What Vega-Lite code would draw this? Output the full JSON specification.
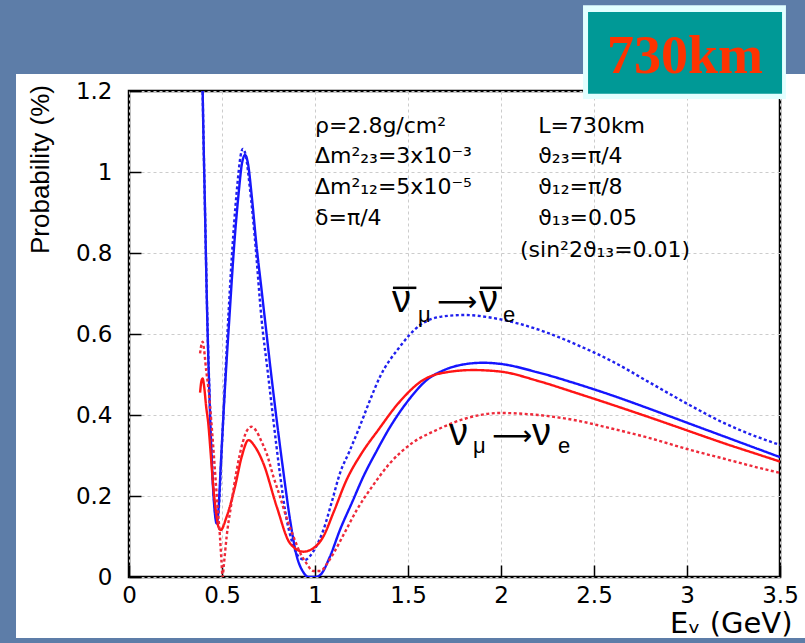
{
  "$schema": "https://vega.github.io/schema/vega-lite/v6.json",
  "width": 651,
  "height": 486,
  "autosize": {"type": "none"},
  "padding": {"left": 129, "top": 91, "right": 25, "bottom": 66},
  "background": "white",
  "config": {
    "view": {"stroke": "black", "strokeWidth": 2.5, "fill": "white"}
  },
  "datasets": {
    "curves": [
      {"s":"bs","E":0.392,"P":1.32},{"s":"bs","E":0.396,"P":1.2},{"s":"bs","E":0.408,"P":0.92},{"s":"bs","E":0.421,"P":0.635},{"s":"bs","E":0.436,"P":0.40},{"s":"bs","E":0.452,"P":0.22},{"s":"bs","E":0.463,"P":0.152},{"s":"bs","E":0.471,"P":0.132},{"s":"bs","E":0.48,"P":0.16},{"s":"bs","E":0.495,"P":0.29},{"s":"bs","E":0.515,"P":0.46},{"s":"bs","E":0.539,"P":0.635},{"s":"bs","E":0.565,"P":0.816},{"s":"bs","E":0.59,"P":0.95},{"s":"bs","E":0.607,"P":1.02},{"s":"bs","E":0.624,"P":1.042},{"s":"bs","E":0.64,"P":1.02},{"s":"bs","E":0.66,"P":0.94},{"s":"bs","E":0.686,"P":0.816},{"s":"bs","E":0.71,"P":0.72},{"s":"bs","E":0.731,"P":0.635},{"s":"bs","E":0.762,"P":0.51},{"s":"bs","E":0.794,"P":0.388},{"s":"bs","E":0.83,"P":0.26},{"s":"bs","E":0.866,"P":0.141},{"s":"bs","E":0.9,"P":0.055},{"s":"bs","E":0.937,"P":0.012},{"s":"bs","E":0.965,"P":0.0},{"s":"bs","E":1.0,"P":0.0},{"s":"bs","E":1.03,"P":0.006},{"s":"bs","E":1.08,"P":0.05},{"s":"bs","E":1.134,"P":0.116},{"s":"bs","E":1.2,"P":0.185},{"s":"bs","E":1.26,"P":0.248},{"s":"bs","E":1.33,"P":0.31},{"s":"bs","E":1.394,"P":0.363},{"s":"bs","E":1.5,"P":0.435},{"s":"bs","E":1.6,"P":0.486},{"s":"bs","E":1.7,"P":0.512},{"s":"bs","E":1.8,"P":0.525},{"s":"bs","E":1.904,"P":0.529},{"s":"bs","E":2.0,"P":0.526},{"s":"bs","E":2.2,"P":0.505},{"s":"bs","E":2.4,"P":0.478},{"s":"bs","E":2.6,"P":0.448},{"s":"bs","E":2.8,"P":0.415},{"s":"bs","E":3.0,"P":0.381},{"s":"bs","E":3.2,"P":0.347},{"s":"bs","E":3.4,"P":0.313},{"s":"bs","E":3.5,"P":0.296},

      {"s":"bd","E":0.392,"P":1.32},{"s":"bd","E":0.396,"P":1.2},{"s":"bd","E":0.408,"P":0.92},{"s":"bd","E":0.421,"P":0.64},{"s":"bd","E":0.436,"P":0.41},{"s":"bd","E":0.452,"P":0.23},{"s":"bd","E":0.463,"P":0.16},{"s":"bd","E":0.473,"P":0.135},{"s":"bd","E":0.483,"P":0.17},{"s":"bd","E":0.497,"P":0.3},{"s":"bd","E":0.515,"P":0.47},{"s":"bd","E":0.535,"P":0.65},{"s":"bd","E":0.56,"P":0.84},{"s":"bd","E":0.585,"P":0.98},{"s":"bd","E":0.6,"P":1.04},{"s":"bd","E":0.612,"P":1.057},{"s":"bd","E":0.628,"P":1.04},{"s":"bd","E":0.65,"P":0.96},{"s":"bd","E":0.676,"P":0.84},{"s":"bd","E":0.713,"P":0.635},{"s":"bd","E":0.745,"P":0.51},{"s":"bd","E":0.776,"P":0.388},{"s":"bd","E":0.81,"P":0.26},{"s":"bd","E":0.848,"P":0.141},{"s":"bd","E":0.875,"P":0.09},{"s":"bd","E":0.901,"P":0.058},{"s":"bd","E":0.925,"P":0.045},{"s":"bd","E":0.946,"P":0.042},{"s":"bd","E":0.97,"P":0.05},{"s":"bd","E":1.0,"P":0.07},{"s":"bd","E":1.045,"P":0.116},{"s":"bd","E":1.09,"P":0.185},{"s":"bd","E":1.134,"P":0.256},{"s":"bd","E":1.185,"P":0.31},{"s":"bd","E":1.233,"P":0.363},{"s":"bd","E":1.29,"P":0.43},{"s":"bd","E":1.35,"P":0.495},{"s":"bd","E":1.45,"P":0.565},{"s":"bd","E":1.565,"P":0.622},{"s":"bd","E":1.68,"P":0.643},{"s":"bd","E":1.806,"P":0.647},{"s":"bd","E":1.95,"P":0.64},{"s":"bd","E":2.1,"P":0.625},{"s":"bd","E":2.25,"P":0.603},{"s":"bd","E":2.4,"P":0.575},{"s":"bd","E":2.6,"P":0.532},{"s":"bd","E":2.8,"P":0.48},{"s":"bd","E":3.0,"P":0.428},{"s":"bd","E":3.2,"P":0.38},{"s":"bd","E":3.4,"P":0.342},{"s":"bd","E":3.5,"P":0.326},

      {"s":"rs","E":0.382,"P":0.455},{"s":"rs","E":0.39,"P":0.485},{"s":"rs","E":0.396,"P":0.49},{"s":"rs","E":0.404,"P":0.47},{"s":"rs","E":0.415,"P":0.42},{"s":"rs","E":0.426,"P":0.38},{"s":"rs","E":0.44,"P":0.3},{"s":"rs","E":0.453,"P":0.223},{"s":"rs","E":0.468,"P":0.16},{"s":"rs","E":0.48,"P":0.125},{"s":"rs","E":0.493,"P":0.116},{"s":"rs","E":0.525,"P":0.149},{"s":"rs","E":0.57,"P":0.223},{"s":"rs","E":0.606,"P":0.297},{"s":"rs","E":0.642,"P":0.338},{"s":"rs","E":0.677,"P":0.322},{"s":"rs","E":0.722,"P":0.281},{"s":"rs","E":0.794,"P":0.174},{"s":"rs","E":0.866,"P":0.083},{"s":"rs","E":0.937,"P":0.0625},{"s":"rs","E":0.98,"P":0.068},{"s":"rs","E":1.045,"P":0.1},{"s":"rs","E":1.1,"P":0.16},{"s":"rs","E":1.17,"P":0.24},{"s":"rs","E":1.25,"P":0.305},{"s":"rs","E":1.34,"P":0.363},{"s":"rs","E":1.45,"P":0.43},{"s":"rs","E":1.58,"P":0.486},{"s":"rs","E":1.7,"P":0.505},{"s":"rs","E":1.85,"P":0.511},{"s":"rs","E":2.0,"P":0.507},{"s":"rs","E":2.2,"P":0.484},{"s":"rs","E":2.4,"P":0.455},{"s":"rs","E":2.6,"P":0.425},{"s":"rs","E":2.8,"P":0.394},{"s":"rs","E":3.0,"P":0.362},{"s":"rs","E":3.2,"P":0.33},{"s":"rs","E":3.4,"P":0.3},{"s":"rs","E":3.5,"P":0.285},

      {"s":"rd","E":0.382,"P":0.552},{"s":"rd","E":0.39,"P":0.575},{"s":"rd","E":0.396,"P":0.581},{"s":"rd","E":0.404,"P":0.56},{"s":"rd","E":0.415,"P":0.51},{"s":"rd","E":0.426,"P":0.47},{"s":"rd","E":0.445,"P":0.37},{"s":"rd","E":0.462,"P":0.264},{"s":"rd","E":0.476,"P":0.175},{"s":"rd","E":0.489,"P":0.1},{"s":"rd","E":0.497,"P":0.04},{"s":"rd","E":0.503,"P":0.0},{"s":"rd","E":0.51,"P":0.03},{"s":"rd","E":0.525,"P":0.1},{"s":"rd","E":0.55,"P":0.18},{"s":"rd","E":0.579,"P":0.264},{"s":"rd","E":0.61,"P":0.33},{"s":"rd","E":0.635,"P":0.362},{"s":"rd","E":0.659,"P":0.371},{"s":"rd","E":0.685,"P":0.36},{"s":"rd","E":0.712,"P":0.335},{"s":"rd","E":0.74,"P":0.305},{"s":"rd","E":0.775,"P":0.25},{"s":"rd","E":0.812,"P":0.198},{"s":"rd","E":0.848,"P":0.145},{"s":"rd","E":0.884,"P":0.1},{"s":"rd","E":0.92,"P":0.06},{"s":"rd","E":0.955,"P":0.033},{"s":"rd","E":0.99,"P":0.015},{"s":"rd","E":1.03,"P":0.015},{"s":"rd","E":1.065,"P":0.033},{"s":"rd","E":1.099,"P":0.058},{"s":"rd","E":1.16,"P":0.11},{"s":"rd","E":1.224,"P":0.165},{"s":"rd","E":1.31,"P":0.225},{"s":"rd","E":1.403,"P":0.281},{"s":"rd","E":1.52,"P":0.33},{"s":"rd","E":1.654,"P":0.363},{"s":"rd","E":1.8,"P":0.39},{"s":"rd","E":1.995,"P":0.405},{"s":"rd","E":2.2,"P":0.4},{"s":"rd","E":2.4,"P":0.387},{"s":"rd","E":2.6,"P":0.366},{"s":"rd","E":2.8,"P":0.343},{"s":"rd","E":3.0,"P":0.316},{"s":"rd","E":3.2,"P":0.292},{"s":"rd","E":3.4,"P":0.268},{"s":"rd","E":3.5,"P":0.257}
    ],
    "strips": [
      {"E":-1,"E2":-0.6075,"P":-0.3,"P2":1.7},
      {"E":-1,"E2":4,"P":1.242,"P2":1.7},
      {"E":-1,"E2":4,"P":-0.3,"P2":-0.1506}
    ],
    "boxOuter": [{"E":2.441,"E2":3.532,"P":1.18,"P2":1.412}],
    "boxInner": [{"E":2.468,"E2":3.511,"P":1.193,"P2":1.395}],
    "boxText": [{"E":2.989,"P":1.244,"t":"730km"}],
    "params": [
      {"E":1.0,"P":1.096,"t":"ρ=2.8g/cm²"},
      {"E":1.0,"P":1.022,"t":"Δm²₂₃=3x10⁻³"},
      {"E":1.0,"P":0.946,"t":"Δm²₁₂=5x10⁻⁵"},
      {"E":1.0,"P":0.869,"t":"δ=π/4"},
      {"E":2.2,"P":1.096,"t":"L=730km"},
      {"E":2.2,"P":1.022,"t":"ϑ₂₃=π/4"},
      {"E":2.2,"P":0.946,"t":"ϑ₁₂=π/8"},
      {"E":2.2,"P":0.869,"t":"ϑ₁₃=0.05"},
      {"E":2.102,"P":0.79,"t":"(sin²2ϑ₁₃=0.01)"}
    ],
    "nuBig": [
      {"E":1.414,"P":0.654,"t":"ν"},
      {"E":1.882,"P":0.654,"t":"ν"},
      {"E":1.72,"P":0.326,"t":"ν"},
      {"E":2.166,"P":0.326,"t":"ν"}
    ],
    "bars": [
      {"E":1.419,"E2":1.545,"P":0.714},
      {"E":1.887,"E2":2.005,"P":0.714}
    ],
    "nuSmall": [
      {"E":1.554,"P":0.63,"t":"μ"},
      {"E":2.011,"P":0.63,"t":"e"},
      {"E":1.849,"P":0.306,"t":"μ"},
      {"E":2.306,"P":0.306,"t":"e"}
    ],
    "arrows": [
      {"E":1.656,"P":0.657,"t":"⟶"},
      {"E":1.952,"P":0.326,"t":"⟶"}
    ]
  },
  "layer": [
    {
      "data": {"name": "curves"},
      "mark": {"type": "line", "clip": true, "interpolate": "monotone", "strokeWidth": 2.4},
      "encoding": {
        "x": {"field": "E", "type": "quantitative",
          "scale": {"domain": [0, 3.5], "nice": false, "zero": false},
          "axis": {"values": [0, 0.5, 1, 1.5, 2, 2.5, 3, 3.5], "format": "~g", "title": "Eᵥ (GeV)",
            "grid": true, "gridDash": [3, 3], "gridColor": "#cccccc", "gridWidth": 1,
            "domain": false, "tickSize": -12, "tickColor": "black", "tickWidth": 1.5,
            "labelPadding": 19, "labelFlush": false, "labelOverlap": false,
            "labelFont": "DejaVu Sans", "labelFontSize": 23, "labelColor": "black", "labelBaseline": "top",
            "titleFont": "DejaVu Sans", "titleFontSize": 29, "titleFontWeight": "normal", "titleColor": "black",
            "titleX": 663, "titleY": 55, "titleAlign": "right", "titleBaseline": "alphabetic", "titleAnchor": "end"}},
        "y": {"field": "P", "type": "quantitative",
          "scale": {"domain": [0, 1.2], "nice": false, "zero": false},
          "axis": {"values": [0, 0.2, 0.4, 0.6, 0.8, 1, 1.2], "format": "~g", "title": "Probability (%)",
            "grid": true, "gridDash": [3, 3], "gridColor": "#cccccc", "gridWidth": 1,
            "domain": false, "tickSize": -12, "tickColor": "black", "tickWidth": 1.5,
            "labelPadding": 29, "labelFlush": false, "labelOverlap": false,
            "labelFont": "DejaVu Sans", "labelFontSize": 23, "labelColor": "black",
            "titleFont": "Liberation Sans", "titleFontSize": 26, "titleFontWeight": "normal", "titleColor": "black",
            "titleX": -89, "titleY": 78, "titleAngle": -90, "titleAlign": "center", "titleBaseline": "middle"}},
        "color": {"field": "s", "type": "nominal", "legend": null,
          "scale": {"domain": ["bd", "bs", "rd", "rs"], "range": ["#2020ee", "#1515ff", "#ee2a3a", "#ff1515"]}},
        "strokeDash": {"field": "s", "type": "nominal", "legend": null,
          "scale": {"domain": ["bd", "bs", "rd", "rs"], "range": [[3, 2.5], [1, 0], [3, 2.5], [1, 0]]}}
      }
    },
    {
      "data": {"name": "strips"},
      "mark": {"type": "rect", "color": "#5d7da8"},
      "encoding": {
        "x": {"field": "E", "type": "quantitative", "scale": {"domain": [0, 3.5]}},
        "x2": {"field": "E2"},
        "y": {"field": "P", "type": "quantitative", "scale": {"domain": [0, 1.2]}},
        "y2": {"field": "P2"}
      }
    },
    {
      "data": {"name": "boxOuter"},
      "mark": {"type": "rect", "color": "#e2ffff"},
      "encoding": {
        "x": {"field": "E", "type": "quantitative"},
        "x2": {"field": "E2"},
        "y": {"field": "P", "type": "quantitative"},
        "y2": {"field": "P2"}
      }
    },
    {
      "data": {"name": "boxInner"},
      "mark": {"type": "rect", "color": "#009996"},
      "encoding": {
        "x": {"field": "E", "type": "quantitative"},
        "x2": {"field": "E2"},
        "y": {"field": "P", "type": "quantitative"},
        "y2": {"field": "P2"}
      }
    },
    {
      "data": {"name": "boxText"},
      "mark": {"type": "text", "font": "Liberation Serif", "fontWeight": "bold", "fontSize": 54, "color": "#ff3300", "align": "center", "baseline": "alphabetic"},
      "encoding": {
        "x": {"field": "E", "type": "quantitative"},
        "y": {"field": "P", "type": "quantitative"},
        "text": {"field": "t"}
      }
    },
    {
      "data": {"name": "params"},
      "mark": {"type": "text", "font": "DejaVu Sans", "fontSize": 22, "color": "black", "align": "left", "baseline": "alphabetic"},
      "encoding": {
        "x": {"field": "E", "type": "quantitative"},
        "y": {"field": "P", "type": "quantitative"},
        "text": {"field": "t"}
      }
    },
    {
      "data": {"name": "nuBig"},
      "mark": {"type": "text", "font": "Liberation Sans", "fontSize": 38, "color": "black", "align": "left", "baseline": "alphabetic"},
      "encoding": {
        "x": {"field": "E", "type": "quantitative"},
        "y": {"field": "P", "type": "quantitative"},
        "text": {"field": "t"}
      }
    },
    {
      "data": {"name": "bars"},
      "mark": {"type": "rule", "color": "black", "strokeWidth": 2.5},
      "encoding": {
        "x": {"field": "E", "type": "quantitative"},
        "x2": {"field": "E2"},
        "y": {"field": "P", "type": "quantitative"}
      }
    },
    {
      "data": {"name": "nuSmall"},
      "mark": {"type": "text", "font": "Liberation Sans", "fontSize": 22, "color": "black", "align": "left", "baseline": "alphabetic"},
      "encoding": {
        "x": {"field": "E", "type": "quantitative"},
        "y": {"field": "P", "type": "quantitative"},
        "text": {"field": "t"}
      }
    },
    {
      "data": {"name": "arrows"},
      "mark": {"type": "text", "font": "DejaVu Sans", "fontSize": 28, "color": "black", "align": "left", "baseline": "alphabetic"},
      "encoding": {
        "x": {"field": "E", "type": "quantitative"},
        "y": {"field": "P", "type": "quantitative"},
        "text": {"field": "t"}
      }
    }
  ]
}
